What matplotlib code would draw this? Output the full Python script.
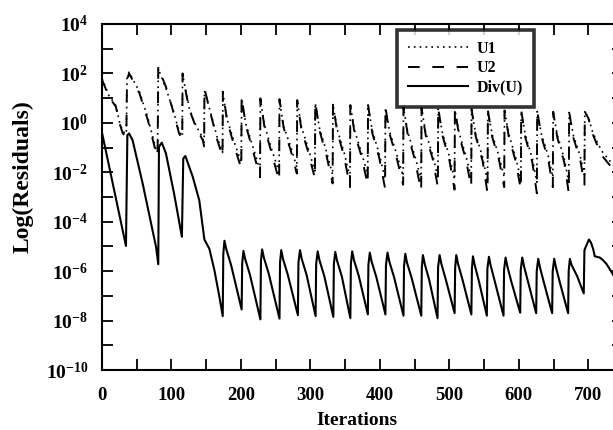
import matplotlib
matplotlib.use("Agg")
import matplotlib.pyplot as plt
import numpy as np
from matplotlib.ticker import FuncFormatter, LogLocator, MultipleLocator

plt.rcParams['font.family'] = ['Liberation Serif', 'DejaVu Serif']
plt.rcParams['font.weight'] = 'bold'
plt.rcParams['mathtext.fontset'] = 'custom'
plt.rcParams['mathtext.rm'] = 'Liberation Serif:bold'
plt.rcParams['mathtext.default'] = 'rm'

# Iterations shared by the two velocity residual curves
u_iter = [0, 10, 20, 25, 30, 35,
          36, 39, 54, 66, 78, 80,
          81, 83, 92, 102, 111, 115.5,
          116, 121, 126, 135, 145, 147,
          147.5, 155, 166, 173.5,
          174, 180, 190, 200.5,
          201, 207, 217, 227.5,
          228, 234, 244, 255,
          255.5, 261.5, 271.5, 280.5,
          281, 287, 297, 306.5,
          307, 313, 323, 332,
          332.5, 338.5, 348.5, 357,
          357.5, 363.5, 373.5, 382.5,
          383, 389, 399, 407.5,
          408, 414, 424, 433.5,
          434, 440, 450, 459.5,
          460, 466, 476, 483.5,
          484, 490, 500, 507.5,
          508, 514, 524, 531.5,
          532, 538, 548, 555,
          555.5, 561.5, 571.5, 579,
          579.5, 585.5, 595.5, 603,
          603.5, 609.5, 619.5, 626,
          626.5, 632.5, 642.5, 649,
          649.5, 655.5, 665.5, 672,
          672.5, 678.5, 688.5, 694.5,
          695, 700, 706, 714, 721, 733, 745]

# log10 of the residuals
u1_log = [1.8, 1.1, 0.7, 0.05, -0.35, -0.45,
          1.8, 2.05, 1.25, 0.2, -1.1, -1.2,
          2.2, 2.05, 1.4, 0.55, -0.35, -0.55,
          1.95, 1.25, 0.55, -0.1, -0.6, -0.85,
          1.3, 0.55, -0.6, -1.2,
          1.2, 0.15, -0.75, -1.6,
          1.0, -0.05, -0.95, -1.9,
          0.95, -0.1, -1.05, -2.0,
          0.9, -0.15, -0.95, -1.8,
          0.88, -0.15, -1.05, -1.95,
          0.8, -0.2, -1.15, -2.1,
          0.75, -0.25, -1.2, -2.2,
          0.7, -0.3, -1.2, -2.1,
          0.68, -0.3, -1.25, -2.25,
          0.62, -0.35, -1.25, -2.15,
          0.6, -0.35, -1.3, -2.3,
          0.58, -0.4, -1.3, -2.2,
          0.56, -0.4, -1.35, -2.3,
          0.52, -0.4, -1.35, -2.2,
          0.52, -0.45, -1.4, -2.4,
          0.48, -0.45, -1.35, -2.2,
          0.48, -0.45, -1.4, -2.3,
          0.46, -0.5, -1.45, -2.4,
          0.46, -0.45, -1.35, -2.2,
          0.42, -0.5, -1.45, -2.4,
          0.42, -0.5, -1.35, -2.1,
          0.4, 0.25, -0.35, -0.85, -1.2, -1.6, -2.0]

u2_log = [1.75, 1.06, 0.65, 0.0, -0.43, -0.55,
          1.75, 2.0, 1.19, 0.11, -1.23, -1.35,
          2.27, 2.1, 1.46, 0.52, -0.43, -0.65,
          2.0, 1.19, 0.52, -0.16, -0.7, -0.95,
          1.4, 0.52, -0.7, -1.35,
          1.26, 0.1, -0.9, -1.85,
          1.06, -0.1, -1.1, -2.2,
          0.99, -0.2, -1.2, -2.35,
          0.96, -0.2, -1.1, -2.05,
          0.92, -0.25, -1.2, -2.25,
          0.85, -0.3, -1.3, -2.45,
          0.78, -0.35, -1.35, -2.6,
          0.72, -0.4, -1.35, -2.5,
          0.72, -0.4, -1.4, -2.65,
          0.64, -0.45, -1.4, -2.5,
          0.64, -0.45, -1.45, -2.75,
          0.6, -0.5, -1.45, -2.6,
          0.6, -0.5, -1.5, -2.7,
          0.55, -0.5, -1.5, -2.6,
          0.55, -0.55, -1.55, -2.85,
          0.5, -0.55, -1.5, -2.6,
          0.5, -0.55, -1.55, -2.7,
          0.5, -0.6, -1.6, -2.85,
          0.5, -0.55, -1.5, -2.6,
          0.45, -0.6, -1.6, -2.85,
          0.45, -0.6, -1.5, -2.5,
          0.45, 0.2, -0.43, -0.97, -1.37, -1.78, -2.2]

div_iter = [0, 34.5, 36.5, 39, 44, 58.5, 77.8, 81,
            82, 86, 92, 104, 115,
            117, 120, 130.6, 140, 147.4, 154.6, 161.8, 169, 173.8,
            174.6, 176.3, 178.8, 185.8, 201,
            201.8, 203.6, 206, 213, 228,
            228.8, 230.5, 233, 240, 255.5,
            256.3, 258, 260.5, 267.5, 282,
            282.8, 285, 287.5, 294.5, 307.5,
            308.3, 310.5, 313, 320, 333,
            333.8, 335.8, 338.3, 345.3, 357.5,
            358.3, 360.2, 362.7, 369.7, 382.7,
            383.5, 385.5, 388, 395, 408,
            408.8, 411, 413.5, 420.5, 434,
            434.8, 436.6, 439, 446, 459.6,
            460.4, 462, 464.5, 471, 483,
            483.8, 486, 488.5, 495, 507.6,
            508.4, 510, 512.5, 519, 531.7,
            532.5, 534, 536.5, 542.5, 554,
            554.8, 557, 559.5, 565.5, 578,
            578.8, 581, 583.5, 589.5, 602,
            602.8, 605, 607.5, 613.5, 625,
            625.8, 628, 630.5, 636.5, 648,
            648.8, 651, 653.5, 659.5, 671,
            671.8, 673.5, 676, 684, 693.5,
            694.5, 697.4, 701, 704, 707, 709.4, 716.6, 721, 726, 733.4, 745]

div_log = [-0.4, -4.98, -0.5, -0.43, -0.7, -2.45, -5.02, -5.72,
           -0.97, -0.8, -1.23, -2.9, -4.61,
           -1.44, -1.34, -2.18, -3.13, -4.72, -5.1, -5.96, -7.04, -7.82,
           -5.3, -4.77, -5.1, -5.75, -7.55,
           -5.7, -5.18, -5.5, -6.15, -7.95,
           -5.6, -5.12, -5.45, -6.1, -7.92,
           -5.65, -5.15, -5.5, -6.15, -7.78,
           -5.65, -5.15, -5.5, -6.15, -7.82,
           -5.7, -5.2, -5.55, -6.2, -7.85,
           -5.7, -5.22, -5.57, -6.22, -7.9,
           -5.7, -5.2, -5.55, -6.2, -7.75,
           -5.75, -5.25, -5.6, -6.25, -7.75,
           -5.75, -5.25, -5.6, -6.25, -7.8,
           -5.8, -5.3, -5.65, -6.3, -7.8,
           -5.85, -5.35, -5.7, -6.35, -7.9,
           -5.85, -5.35, -5.7, -6.35, -7.7,
           -5.85, -5.35, -5.7, -6.35, -7.75,
           -5.9, -5.4, -5.75, -6.4, -7.8,
           -5.9, -5.42, -5.77, -6.42, -7.8,
           -5.95, -5.45, -5.8, -6.45, -7.68,
           -5.95, -5.45, -5.8, -6.45, -7.7,
           -6.0, -5.5, -5.85, -6.5, -7.7,
           -6.0, -5.5, -5.85, -6.5, -7.7,
           -6.0, -5.5, -5.75, -6.2, -6.9,
           -5.15, -4.95, -4.72, -4.85, -5.1, -5.4, -5.45, -5.55, -5.7, -6.03, -6.6]

fig = plt.figure(figsize=(6.13, 4.30), dpi=100)
ax = fig.add_axes([0.1664, 0.1395, 0.8499, 0.8047])

ax.semilogy(u_iter, 10.0 ** np.array(u1_log), color='black', lw=1.2,
            linestyle=(0, (1, 2.5)), label='U1')
ax.semilogy(u_iter, 10.0 ** np.array(u2_log), color='black', lw=1.4,
            linestyle=(0, (6, 6.5)), label='U2')
ax.semilogy(div_iter, 10.0 ** np.array(div_log), color='black', lw=1.5,
            label='Div(U)')

ax.set_xlim(0, 750)
ax.set_ylim(1e-10, 1e4)

# Ticks: every 50 on x (labels every 100), every decade on y (labels every 2)
ax.xaxis.set_major_locator(MultipleLocator(100))
ax.xaxis.set_minor_locator(MultipleLocator(50))
ax.yaxis.set_major_locator(LogLocator(base=10, subs=(1.0,), numticks=30))
ax.yaxis.set_minor_locator(LogLocator(base=10, subs=(), numticks=30))


def exp_label(v, pos):
    e = int(round(np.log10(v)))
    return r'$10^{%d}$' % e if e % 2 == 0 else ''


ax.yaxis.set_major_formatter(FuncFormatter(exp_label))
ax.tick_params(which='both', direction='in', top=True, right=True,
               length=8, width=1.3)
ax.tick_params(axis='x', which='major', labelsize=13.5, pad=12)
ax.tick_params(axis='y', which='major', labelsize=14, pad=10)
for s in ax.spines.values():
    s.set_linewidth(1.5)

ax.set_xlabel('Iterations', fontsize=14, fontweight='bold')
ax.set_ylabel('Log(Residuals)', fontsize=17, fontweight='bold')
ax.xaxis.set_label_coords(0.49, -0.147)
ax.yaxis.set_label_coords(-0.152, 0.558)
ax.xaxis.label.set_va('center')
ax.yaxis.label.set_va('center')

leg = ax.legend(loc='upper left', bbox_to_anchor=(0.566, 0.983),
                borderaxespad=0, fancybox=False, frameon=True,
                edgecolor='black', fontsize=11.5, handlelength=3.75,
                handletextpad=0.55, labelspacing=0.2, borderpad=0.7)
leg.get_frame().set_linewidth(2.6)
for t in leg.get_texts():
    t.set_fontweight('bold')

fig.savefig('out.png', dpi=100)
